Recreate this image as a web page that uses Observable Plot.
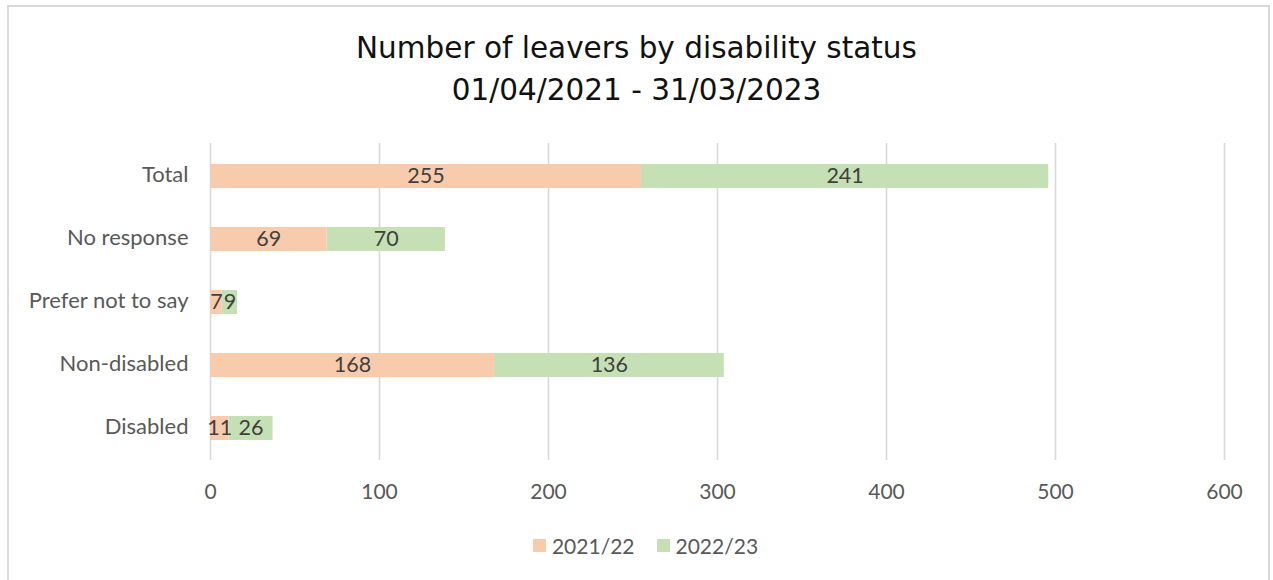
<!DOCTYPE html>
<html>
<head>
<meta charset="utf-8">
<script src="https://cdn.jsdelivr.net/npm/d3@7"></script>
<script src="https://cdn.jsdelivr.net/npm/@observablehq/plot@0.6"></script>
<style>
  html, body { margin: 0; padding: 0; background: #fff; }
  body { width: 1273px; height: 580px; overflow: hidden; position: relative; font-family: Lato, "Open Sans", sans-serif; }
  #frame { position: absolute; left: 7px; top: 5px; width: 1259px; height: 600px; border: 2px solid #d9d9d9; border-bottom: none; pointer-events: none; }
  #title { height: 120px; box-sizing: border-box; padding-top: 27px; text-align: center; font-family: "DejaVu Sans", sans-serif; font-size: 29.5px; line-height: 42px; color: #111; font-weight: 400; }
  #chart svg { display: block; }
  #legend { display: flex; justify-content: center; align-items: center; gap: 22px; height: 50px; font-size: 21px; color: #595959; margin-left: 18px; }
  .item { display: flex; align-items: center; gap: 6px; }
  .sw { width: 13px; height: 13px; display: inline-block; }
</style>
</head>
<body>
<div id="frame"></div>
<div id="title">Number of leavers by disability status<br>01/04/2021 - 31/03/2023</div>
<div id="chart"></div>
<div id="legend"></div>
<script>
const categories = ["Total", "No response", "Prefer not to say", "Non-disabled", "Disabled"];
const years = ["2021/22", "2022/23"];
const values2021 = [255, 69, 7, 168, 11];
const values2022 = [241, 70, 9, 136, 26];
const colors = ["#f8cbad", "#c5e0b4"];
const xTicks = [0, 100, 200, 300, 400, 500, 600];

const data = [];
categories.forEach((c, i) => {
  data.push({category: c, year: years[0], value: values2021[i]});
  data.push({category: c, year: years[1], value: values2022[i]});
});

const chart = Plot.plot({
  width: 1273,
  height: 400,
  marginTop: 23,
  marginBottom: 60,
  marginLeft: 210,
  marginRight: 49,
  style: {fontFamily: "Lato, 'Open Sans', sans-serif", fontSize: "21px", color: "#595959", background: "transparent"},
  x: {domain: [0, 600], ticks: xTicks, label: null},
  y: {domain: categories, paddingInner: 0.62, paddingOuter: 0.31, label: null},
  color: {domain: years, range: colors},
  marks: [
    Plot.ruleX(xTicks, {stroke: "#d9d9d9", strokeWidth: 1.6}),
    Plot.barX(data, Plot.stackX({x: "value", y: "category", fill: "year", order: years})),
    Plot.textX(data, Plot.stackX({x: "value", y: "category", z: "year", order: years, text: d => String(d.value), fill: "#404040", fontSize: 21.5})),
    Plot.axisX({ticks: xTicks, tickSize: 0, tickPadding: 24, label: null, fill: "#595959", fontSize: 21}),
    Plot.axisY({tickSize: 0, tickPadding: 22, label: null, fill: "#595959", fontSize: 22, dy: -2})
  ]
});
document.getElementById("chart").appendChild(chart);

const legend = document.getElementById("legend");
years.forEach((y, i) => {
  const it = document.createElement("span");
  it.className = "item";
  const sw = document.createElement("span");
  sw.className = "sw";
  sw.style.background = colors[i];
  const t = document.createElement("span");
  t.textContent = y;
  it.appendChild(sw); it.appendChild(t);
  legend.appendChild(it);
});
</script>
</body>
</html>
